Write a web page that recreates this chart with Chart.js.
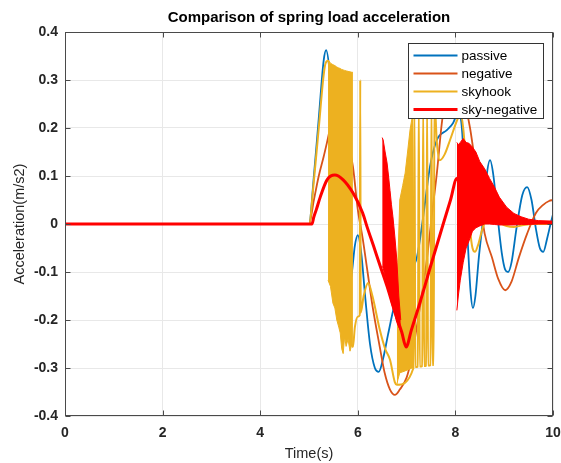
<!DOCTYPE html>
<html>
<head>
<meta charset="utf-8">
<script src="https://cdn.jsdelivr.net/npm/chart.js@4.4.1/dist/chart.umd.min.js"></script>
<style>
  html, body { margin: 0; padding: 0; background: #fff; }
  #wrap { width: 561px; height: 463px; }
</style>
</head>
<body>
<div id="wrap"><canvas id="accChart" width="561" height="463"></canvas></div>
<script>
// ---- data ----
const titleText = 'Comparison of spring load acceleration';
const timeTicks = [0, 2, 4, 6, 8, 10];
const accTicks = [-0.4, -0.3, -0.2, -0.1, 0, 0.1, 0.2, 0.3, 0.4];

// passive
const passiveT = [0, 5.0, 5.1, 5.2, 5.3, 5.35, 5.42, 5.5, 5.6, 5.7, 5.8, 5.88, 5.94, 6.0, 6.07, 6.15, 6.25, 6.35, 6.43, 6.52, 6.62, 6.75, 6.9, 7.05, 7.21, 7.34, 7.48, 7.62, 7.83, 7.95, 8.05, 8.1, 8.14, 8.2, 8.26, 8.31, 8.36, 8.41, 8.48, 8.57, 8.64, 8.71, 8.78, 8.86, 8.95, 9.02, 9.08, 9.15, 9.25, 9.37, 9.47, 9.56, 9.65, 9.73, 9.8, 9.88, 9.95, 10];
const passiveA = [0, 0, 0.1, 0.22, 0.34, 0.362, 0.32, 0.2, 0.02, -0.1, -0.14, -0.1, -0.045, -0.023, -0.06, -0.15, -0.25, -0.3, -0.308, -0.28, -0.23, -0.17, -0.13, -0.1, -0.07, 0.015, 0.12, 0.175, 0.196, 0.21, 0.23, 0.225, 0.19, 0.07, -0.05, -0.14, -0.175, -0.15, -0.07, 0.015, 0.1, 0.133, 0.1, 0.02, -0.06, -0.095, -0.1, -0.08, -0.01, 0.06, 0.077, 0.05, -0.01, -0.05, -0.058, -0.03, 0.0, 0.02];

// negative
const negativeT = [0, 5.0, 5.1, 5.2, 5.3, 5.38, 5.48, 5.58, 5.68, 5.78, 5.9, 6.0, 6.1, 6.2, 6.3, 6.45, 6.55, 6.66, 6.76, 6.86, 7.0, 7.1, 7.2, 7.31, 7.42, 7.52, 7.62, 7.73, 7.85, 7.97, 8.08, 8.2, 8.3, 8.4, 8.5, 8.6, 8.75, 8.88, 9.02, 9.15, 9.3, 9.47, 9.65, 9.8, 9.92, 10];
const negativeA = [0, 0, 0.05, 0.1, 0.14, 0.175, 0.22, 0.24, 0.225, 0.18, 0.12, 0.03, -0.03, -0.1, -0.17, -0.256, -0.31, -0.345, -0.356, -0.345, -0.32, -0.28, -0.22, -0.15, -0.07, 0.02, 0.106, 0.217, 0.28, 0.3, 0.29, 0.25, 0.2, 0.13, 0.05, -0.02, -0.07, -0.115, -0.138, -0.12, -0.07, -0.02, 0.023, 0.04, 0.048, 0.05];

// skyhook (main trace, dense bursts drawn as bands below)
const skyhookT = [0, 5.0, 5.1, 5.2, 5.3, 5.34, 5.39, 5.64, 5.9, 5.94, 6.0, 6.04, 6.05, 6.06, 6.12, 6.21, 6.3, 6.45, 6.56, 6.66, 6.76, 6.8, 7.14,
  7.16, 7.18, 7.23, 7.25, 7.27, 7.32, 7.34, 7.36, 7.4, 7.42, 7.44, 7.49, 7.51, 7.53, 7.555, 7.57,
  7.62, 7.68, 7.78, 7.89, 8.03, 8.1, 8.16, 8.22, 8.27, 8.31, 8.35, 8.4, 8.46, 8.57, 8.68, 8.78, 8.9, 9.05, 9.2, 9.4, 9.6, 10];
const skyhookA = [0, 0, 0.09, 0.2, 0.31, 0.335, 0.34, 0.0, -0.256, -0.215, -0.193, -0.19, 0.3, -0.185, -0.15, -0.123, -0.15, -0.22, -0.26, -0.283, -0.33, -0.335, -0.3,
  0.26, -0.298, -0.297, 0.26, -0.297, -0.296, 0.26, -0.296, -0.295, 0.26, -0.295, -0.294, 0.26, -0.294, -0.294, 0.26,
  0.17, 0.133, 0.145, 0.175, 0.215, 0.23, 0.2, 0.12, 0.04, -0.02, -0.05, -0.058, -0.045, -0.005, 0.012, 0.012, 0.003, -0.004, -0.006, -0.002, 0.0, 0.0];

// skyhook burst envelopes
const skyBurst1T = [5.39, 5.44, 5.49, 5.53, 5.57, 5.61, 5.64, 5.67, 5.7, 5.73, 5.76, 5.8, 5.84, 5.88, 5.9];
const skyBurst1Hi = [0.342, 0.335, 0.332, 0.33, 0.327, 0.325, 0.324, 0.322, 0.321, 0.32, 0.319, 0.318, 0.317, 0.316, 0.316];
const skyBurst1Lo = [-0.117, -0.13, -0.165, -0.175, -0.2, -0.215, -0.227, -0.26, -0.27, -0.235, -0.255, -0.24, -0.265, -0.25, -0.256];
const skyBurst2T = [6.8, 6.82, 6.86, 6.92, 6.97, 7.02, 7.07, 7.11, 7.14];
const skyBurst2Hi = [-0.2, -0.08, 0.05, 0.08, 0.106, 0.15, 0.196, 0.22, 0.27];
const skyBurst2Lo = [-0.335, -0.325, -0.31, -0.308, -0.306, -0.304, -0.302, -0.3, -0.3];

// sky-negative
const skyNegT = [0, 5.06, 5.1, 5.15, 5.23, 5.37, 5.53, 5.7, 5.9, 6.1, 6.19, 6.32, 6.45, 6.6, 6.75, 6.9, 6.99, 7.1, 7.27, 7.5, 7.75, 7.9, 8.03, 8.1, 8.2, 8.35, 8.5, 8.7, 9.0, 9.3, 9.6, 10];
const skyNegA = [0, 0, 0.015, 0.03, 0.056, 0.092, 0.102, 0.092, 0.065, 0.023, -0.006, -0.045, -0.085, -0.13, -0.18, -0.225, -0.256, -0.22, -0.165, -0.085, 0.0, 0.05, 0.095, 0.08, 0.07, 0.06, 0.045, 0.03, 0.015, 0.007, 0.004, 0.003];

// sky-negative burst envelopes
const negBurst1T = [6.5, 6.52, 6.56, 6.6, 6.63, 6.66, 6.69, 6.72, 6.76, 6.8, 6.84, 6.88];
const negBurst1Hi = [0.18, 0.175, 0.15, 0.127, 0.1, 0.07, 0.04, 0.015, -0.027, -0.075, -0.15, -0.2];
const negBurst1Lo = [-0.088, -0.092, -0.11, -0.125, -0.14, -0.152, -0.165, -0.175, -0.19, -0.205, -0.215, -0.222];
const negBurst2T = [8.03, 8.06, 8.1, 8.16, 8.22, 8.28, 8.35, 8.42, 8.5, 8.6, 8.7, 8.8, 8.9, 9.05, 9.2, 9.35, 9.5, 9.7, 10];
const negBurst2Hi = [0.17, 0.165, 0.17, 0.178, 0.17, 0.168, 0.16, 0.15, 0.13, 0.115, 0.095, 0.077, 0.056, 0.035, 0.022, 0.015, 0.01, 0.007, 0.006];
const negBurst2Lo = [-0.18, -0.15, -0.117, -0.08, -0.05, -0.035, -0.015, -0.008, -0.004, 0.0, 0.0, -0.001, -0.002, -0.002, -0.002, -0.001, -0.001, 0.0, 0.0];

const BLUE = '#0072BD', ORANGE = '#D95319', YELLOW = '#EDB120', RED = '#FF0000';
const FONT = '"Liberation Sans", Arial, Helvetica, sans-serif';
Chart.defaults.font.family = FONT;

function pts(t, v) {
    return t.map((x, i) => ({ x: x, y: v[i] }));
}

function line(label, t, v, color, width, order) {
    return {
        label: label,
        data: pts(t, v),
        borderColor: color,
        backgroundColor: color,
        borderWidth: width,
        pointRadius: 0,
        cubicInterpolationMode: 'monotone',
        fill: false,
        order: order
    };
}

function band(label, t, v, color, order, fillPrev) {
    return {
        label: label,
        data: pts(t, v),
        borderColor: color,
        backgroundColor: color,
        borderWidth: 1,
        pointRadius: 0,
        tension: 0,
        fill: fillPrev ? '-1' : false,
        order: order
    };
}

// frame, inward ticks, legend box and title drawn MATLAB-style
const matlabAxes = {
    id: 'matlabAxes',
    afterDatasetsDraw(chart) {
        const ctx = chart.ctx;
        const a = chart.chartArea;
        const xs = chart.scales.x, ys = chart.scales.y;
        const L = Math.round(a.left) + 0.5, R = Math.round(a.right) - 0.5;
        const T = Math.round(a.top) + 0.5, B = Math.round(a.bottom) - 0.5;
        ctx.save();
        ctx.strokeStyle = '#4a4a4a';
        ctx.lineWidth = 1;
        ctx.beginPath();
        timeTicks.forEach(v => {
            const px = Math.round(xs.getPixelForValue(v)) + 0.5;
            ctx.moveTo(px, B); ctx.lineTo(px, B - 5);
            ctx.moveTo(px, T); ctx.lineTo(px, T + 5);
        });
        accTicks.forEach(v => {
            const py = Math.round(ys.getPixelForValue(v)) + 0.5;
            ctx.moveTo(L, py); ctx.lineTo(L + 5, py);
            ctx.moveTo(R, py); ctx.lineTo(R - 5, py);
        });
        ctx.stroke();
        ctx.strokeRect(L, T, R - L, B - T);

        // legend
        const w = 135, h = 75;
        const bx = Math.round(a.right) - 10 - w + 0.5, by = Math.round(a.top) + 11 + 0.5;
        ctx.fillStyle = '#fff';
        ctx.fillRect(bx, by, w, h);
        ctx.strokeStyle = '#333';
        ctx.strokeRect(bx, by, w, h);
        ctx.font = '13.5px ' + FONT;
        ctx.textBaseline = 'middle';
        ctx.textAlign = 'left';
        chart.data.datasets.slice(0, 4).forEach((ds, i) => {
            const y = by + 12 + i * 18;
            ctx.strokeStyle = ds.borderColor;
            ctx.lineWidth = ds.borderWidth;
            ctx.beginPath();
            ctx.moveTo(bx + 5, y);
            ctx.lineTo(bx + 49, y);
            ctx.stroke();
            ctx.fillStyle = '#000';
            ctx.fillText(ds.label, bx + 53, y + 0.5);
        });

        // title
        ctx.fillStyle = '#000';
        ctx.font = 'bold 15px ' + FONT;
        ctx.textAlign = 'center';
        ctx.fillText(titleText, (a.left + a.right) / 2, 18);
        ctx.restore();
    }
};

const ctx = document.getElementById('accChart').getContext('2d');
new Chart(ctx, {
    type: 'line',
    data: {
        datasets: [
            line('passive', passiveT, passiveA, BLUE, 1.8, 9),
            line('negative', negativeT, negativeA, ORANGE, 1.8, 8),
            line('skyhook', skyhookT, skyhookA, YELLOW, 2, 6),
            line('sky-negative', skyNegT, skyNegA, RED, 3, 2),
            band('sky burst 1 hi', skyBurst1T, skyBurst1Hi, YELLOW, 5, false),
            band('sky burst 1 lo', skyBurst1T, skyBurst1Lo, YELLOW, 5, true),
            band('sky burst 2 hi', skyBurst2T, skyBurst2Hi, YELLOW, 5, false),
            band('sky burst 2 lo', skyBurst2T, skyBurst2Lo, YELLOW, 5, true),
            band('neg burst 1 hi', negBurst1T, negBurst1Hi, RED, 1, false),
            band('neg burst 1 lo', negBurst1T, negBurst1Lo, RED, 1, true),
            band('neg burst 2 hi', negBurst2T, negBurst2Hi, RED, 1, false),
            band('neg burst 2 lo', negBurst2T, negBurst2Lo, RED, 1, true)
        ]
    },
    options: {
        responsive: false,
        animation: false,
        layout: { padding: { top: 32, right: 8, left: 0, bottom: 0 } },
        plugins: {
            legend: { display: false },
            title: { display: false },
            tooltip: { enabled: false }
        },
        scales: {
            x: {
                type: 'linear',
                min: 0,
                max: 10,
                afterBuildTicks: s => { s.ticks = timeTicks.map(v => ({ value: v })); },
                afterFit: s => { s.height = 47; s.paddingLeft = 0; s.paddingRight = 0; },
                grid: { color: '#e8e8e8', drawTicks: false },
                border: { display: false },
                ticks: {
                    padding: 9,
                    color: '#262626',
                    font: { size: 14, weight: 'bold' },
                    callback: v => String(Number(v.toFixed(1)))
                },
                title: {
                    display: true,
                    text: 'Time(s)',
                    color: '#262626',
                    font: { size: 14.5 },
                    padding: { top: 0, bottom: 0 }
                }
            },
            y: {
                type: 'linear',
                min: -0.4,
                max: 0.4,
                afterBuildTicks: s => { s.ticks = accTicks.map(v => ({ value: v })); },
                afterFit: s => { s.width = 65; },
                grid: { color: '#e8e8e8', drawTicks: false },
                border: { display: false },
                ticks: {
                    padding: 7,
                    color: '#262626',
                    font: { size: 14, weight: 'bold' },
                    callback: v => String(Number(v.toFixed(1)))
                },
                title: {
                    display: true,
                    text: 'Acceleration(m/s2)',
                    color: '#262626',
                    font: { size: 14.5 },
                    padding: { top: 11, bottom: 0 }
                }
            }
        }
    },
    plugins: [matlabAxes]
});
</script>
</body>
</html>
